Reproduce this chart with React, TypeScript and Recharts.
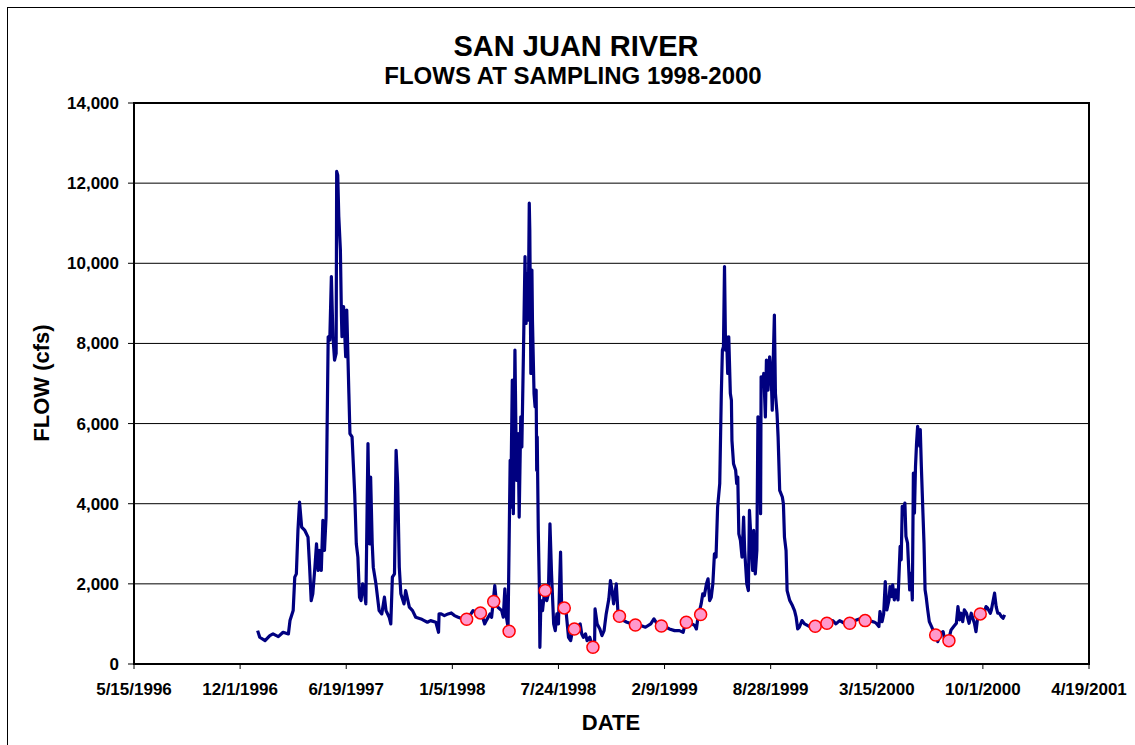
import {
  ComposedChart,
  Line,
  Scatter,
  XAxis,
  YAxis,
  CartesianGrid,
  ReferenceArea,
} from "recharts"

// dates are Excel serial day numbers (as in the original workbook)
const flowDates = [
  35433, 35437, 35447, 35456, 35462, 35472, 35481, 35491, 35494, 35500, 35503, 35506, 35509, 35512, 35516,
  35522, 35528, 35531, 35534, 35537, 35541, 35544, 35547, 35550, 35553, 35556, 35559, 35562, 35566, 35569,
  35572, 35575, 35578, 35581, 35582, 35584, 35586, 35589, 35591, 35592, 35595, 35599, 35601, 35605, 35607,
  35611, 35616, 35619, 35622, 35625, 35628, 35631, 35634, 35637, 35641, 35644, 35646, 35649, 35651, 35656,
  35662, 35667, 35672, 35675, 35681, 35684, 35687, 35691, 35694, 35697, 35700, 35703, 35709, 35712, 35719,
  35725, 35731, 35741, 35747, 35753, 35759, 35769, 35774, 35775,
  35779, 35785, 35792, 35798, 35804, 35811, 35820, 35833, 35839, 35845, 35855, 35861, 35864, 35871, 35874,
  35877, 35880, 35883, 35886, 35893, 35896, 35899, 35902, 35905, 35909, 35910, 35913, 35915, 35918, 35921,
  35924, 35926, 35929, 35931, 35934, 35937, 35939, 35941, 35943, 35945, 35946, 35948, 35950, 35951, 35954,
  35956, 35958, 35959, 35960, 35962, 35964, 35965, 35967, 35970, 35974, 35978, 35981, 35984, 35987, 35991,
  35994, 35997, 36000, 36004, 36006, 36013, 36016, 36019, 36023, 36027, 36035, 36041, 36044, 36047, 36051,
  36054, 36059, 36063, 36068, 36069, 36073, 36078, 36082, 36086, 36090, 36095, 36098, 36101, 36104, 36109,
  36112, 36116, 36123, 36129, 36139, 36145, 36155, 36164, 36174, 36180, 36186,
  36191, 36203, 36209, 36219, 36228, 36235, 36238, 36247, 36257, 36260, 36263, 36269, 36272, 36275, 36279,
  36282, 36285, 36288, 36291, 36294, 36297, 36300, 36304, 36306, 36307, 36309, 36311, 36313, 36315, 36317,
  36319, 36321, 36324, 36326, 36327, 36330, 36334, 36336, 36338, 36340, 36343, 36346, 36349, 36351, 36355,
  36358, 36360, 36363, 36366, 36368, 36371, 36374, 36376, 36379, 36381, 36382, 36385, 36387, 36390, 36392,
  36395, 36398, 36401, 36403, 36405, 36407, 36409, 36412, 36414, 36417, 36422, 36424, 36426, 36429, 36431,
  36436, 36441, 36445, 36448, 36451, 36454, 36459, 36464, 36470, 36476, 36486, 36498, 36511, 36517, 36523,
  36530, 36539, 36555, 36567, 36586, 36596,
  36599, 36604, 36606, 36610, 36613, 36616, 36619, 36623, 36625, 36628, 36630, 36633, 36636, 36640, 36642,
  36644, 36646, 36648, 36650, 36653, 36655, 36658, 36662, 36665, 36667, 36669, 36671, 36673, 36675, 36677,
  36681, 36682, 36684, 36687, 36689, 36691, 36693, 36696, 36699, 36706, 36712, 36715, 36718, 36721, 36725,
  36728, 36736, 36740, 36745, 36750, 36753, 36756, 36759, 36762, 36765, 36769, 36774, 36778, 36781, 36784,
  36787, 36791, 36797, 36801, 36806, 36809, 36814, 36816, 36819, 36822, 36825, 36828, 36831, 36835, 36838,
  36841,
]

const flowCfs = [
  833, 667, 583, 708, 750, 683, 792, 750, 1083, 1333, 2167, 2250, 3333, 4042, 3417,
  3333, 3167, 2417, 1583, 1750, 2417, 3000, 2333, 2833, 2333, 3583, 2833, 3667, 8167, 8083,
  9667, 8167, 7583, 7750, 12292, 12200, 11167, 10333, 8667, 8167, 8917, 7667, 8833, 6750, 5750,
  5667, 4250, 3000, 2667, 1667, 1583, 2000, 1833, 1500, 5500, 3000, 4667, 3000, 2417, 2000,
  1333, 1250, 1667, 1333, 1167, 1000, 2167, 2250, 5333, 4500, 2417, 1750, 1500, 1833, 1417,
  1333, 1167, 1125, 1083, 1042, 1083, 1042, 792, 1250,
  1250, 1208, 1250, 1275, 1208, 1167, 1125, 1208, 1333, 1292, 1267, 1000, 1083, 1250, 1167,
  1542, 1958, 1542, 1417, 1333, 1167, 1875, 1167, 917, 5083, 3917, 7083, 3750, 7833, 4583,
  5750, 3667, 6167, 5417, 7750, 10167, 8500, 9750, 8583, 11500, 10833, 7250, 9833, 8583, 6750,
  6417, 6833, 4833, 5667, 3333, 1917, 417, 1583, 1333, 1833, 1583, 1750, 3500, 2250, 1000,
  833, 1250, 1000, 2792, 1417, 1500, 1083, 667, 583, 875, 917, 1000, 750, 667, 750,
  583, 667, 500, 417, 1375, 1000, 875, 708, 833, 1250, 1625, 2083, 1833, 1500, 2000,
  1333, 1208, 1083, 1042, 1000, 983, 958, 917, 1000, 1125, 1000,
  958, 917, 875, 833, 833, 792, 958, 1042, 958, 875, 1167, 1500, 1750, 1708, 2000,
  2125, 1583, 1667, 2000, 2750, 2667, 3917, 4500, 6000, 6750, 7833, 7917, 9917, 7833, 8167,
  7250, 8167, 6750, 6583, 5583, 5000, 4833, 4500, 4667, 3250, 3083, 2667, 3667, 2833, 2000,
  1833, 3833, 3083, 2333, 3333, 2250, 2833, 6167, 6000, 3750, 7167, 7000, 7250, 6167, 7583,
  6833, 7667, 7167, 6333, 7667, 8708, 6750, 6250, 5667, 4333, 4167, 4000, 3167, 2833, 1833,
  1583, 1458, 1333, 1167, 875, 917, 1083, 1000, 958, 917, 917, 1017, 1042, 1083, 1000,
  1083, 1017, 1067, 1125, 1083, 1042,
  1017, 933, 1308, 1058, 1250, 2058, 1350, 1600, 1933, 1683, 1975, 1600, 1850, 1600, 2267,
  2933, 2600, 3933, 3767, 4017, 3183, 3017, 1850, 2267, 1600, 4767, 3767, 4933, 5517, 5933,
  5433, 5850, 4933, 3767, 3017, 1850, 1683, 1350, 1058, 850, 767, 558, 683, 767, 808,
  600, 642, 850, 933, 1017, 1433, 1100, 1267, 1058, 1350, 1267, 1017, 1267, 1142, 1017,
  808, 1250, 1225, 1225, 1433, 1392, 1267, 1350, 1558, 1767, 1433, 1267, 1267, 1183, 1142,
  1225,
]

const sampleDates = [
  35827, 35853, 35878, 35907, 35975, 36011, 36030, 36065, 36115, 36145,
  36194, 36241, 36268, 36484, 36506, 36549, 36578, 36711, 36736, 36795,
]
const sampleCfs = [
  1117, 1275, 1558, 817, 1833, 1400, 875, 417, 1192, 975,
  950, 1042, 1233, 942, 1017, 1017, 1083, 725, 583, 1250,
]

const xTicks = [35200, 35400, 35600, 35800, 36000, 36200, 36400, 36600, 36800, 37000]
const yTicks = [0, 2000, 4000, 6000, 8000, 10000, 12000, 14000]

const flowData = flowDates.map((x, i) => ({ x, y: flowCfs[i] }))
const sampleData = sampleDates.map((x, i) => ({ x, y: sampleCfs[i] }))

const FONT = "'Liberation Sans', Arial, sans-serif"

function serialToDate(s: number) {
  const d = new Date(Date.UTC(1899, 11, 30) + s * 86400000)
  return `${d.getUTCMonth() + 1}/${d.getUTCDate()}/${d.getUTCFullYear()}`
}

const SampleDot = (props: any) => (
  <circle cx={props.cx} cy={props.cy} r={6} fill="#FF99CC" stroke="#FF0000" strokeWidth={1.5} />
)

export default function App() {
  const tickStyle = { fill: "#000", fontSize: 17, fontWeight: 700, fontFamily: FONT }
  return (
    <div style={{ position: "absolute", left: 0, top: 0, width: 1135, height: 745, overflow: "hidden", background: "#fff" }}>
      <div style={{ position: "absolute", left: 7, top: 7, width: 1200, height: 800, border: "1px solid #000" }} />
      <div style={{ position: "absolute", left: 0, top: 0 }}>
        <ComposedChart width={1135} height={745} margin={{ top: 103, right: 46, bottom: 41, left: 0 }}>
          <CartesianGrid vertical={false} stroke="#000" strokeWidth={1} />
          <XAxis
            type="number"
            dataKey="x"
            domain={[35200, 37000]}
            ticks={xTicks}
            tickFormatter={serialToDate}
            interval={0}
            height={40}
            tickSize={5}
            tickMargin={14}
            stroke="#000"
            tick={tickStyle}
            allowDataOverflow
          />
          <YAxis
            type="number"
            domain={[0, 14000]}
            ticks={yTicks}
            tickFormatter={(v: number) => v.toLocaleString("en-US")}
            interval={0}
            width={134}
            tickSize={6}
            tickMargin={9}
            stroke="#000"
            tick={tickStyle}
          />
          <ReferenceArea x1={35200} x2={37000} y1={0} y2={14000} fill="none" stroke="#000" strokeWidth={2} />
          <Line
            data={flowData}
            dataKey="y"
            type="linear"
            stroke="#000080"
            strokeWidth={3.2}
            dot={false}
            strokeLinejoin="round"
            isAnimationActive={false}
          />
          <Scatter data={sampleData} dataKey="y" shape={SampleDot} isAnimationActive={false} />
        </ComposedChart>
      </div>
      <svg width={1135} height={745} style={{ position: "absolute", left: 0, top: 0, pointerEvents: "none" }}>
        <g fontFamily={FONT} fontWeight={700} fill="#000" textAnchor="middle">
          <text x={576} y={56} fontSize={29}>SAN JUAN RIVER</text>
          <text x={573} y={84} fontSize={24}>FLOWS AT SAMPLING 1998-2000</text>
          <text x={611} y={730} fontSize={22}>DATE</text>
          <text x={49} y={383} fontSize={22} transform="rotate(-90 49 383)">FLOW (cfs)</text>
        </g>
      </svg>
    </div>
  )
}
